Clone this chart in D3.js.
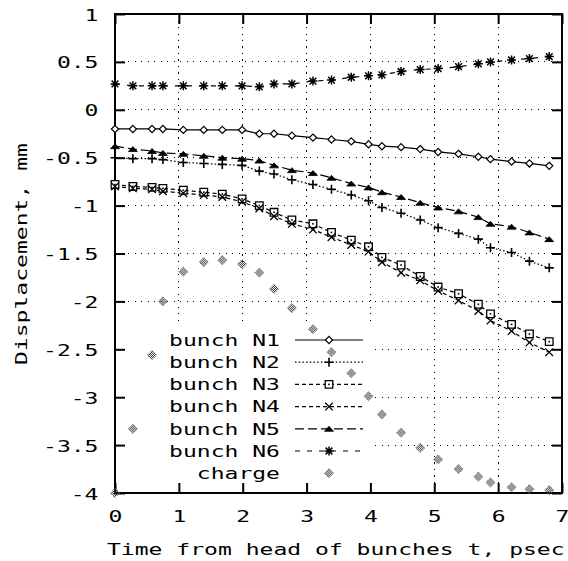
<!DOCTYPE html>
<html>
<head>
<meta charset="utf-8">
<script src="https://cdn.jsdelivr.net/npm/d3@7"></script>
<style>
  body { margin: 0; background: #fff; }
</style>
</head>
<body>
<div id="chart"></div>
<script>
// time from head of bunches, psec (shared by every series)
const tVals = [0, 0.28, 0.58, 0.75, 1.07, 1.39, 1.68, 1.99, 2.26, 2.49, 2.77, 3.10, 3.39,
               3.70, 3.97, 4.18, 4.48, 4.78, 5.06, 5.38, 5.69, 5.88, 6.21, 6.49, 6.80];

// displacement, mm
const bunchN1 = [-0.20, -0.20, -0.20, -0.20, -0.21, -0.21, -0.21, -0.21, -0.25, -0.25, -0.27, -0.29, -0.31,
                 -0.33, -0.36, -0.38, -0.39, -0.41, -0.44, -0.46, -0.49, -0.515, -0.54, -0.56, -0.585];
const bunchN2 = [-0.50, -0.51, -0.51, -0.52, -0.55, -0.56, -0.57, -0.58, -0.64, -0.67, -0.73, -0.78, -0.83,
                 -0.89, -0.95, -1.02, -1.08, -1.15, -1.23, -1.29, -1.35, -1.44, -1.49, -1.58, -1.65];
const bunchN3 = [-0.78, -0.80, -0.81, -0.82, -0.84, -0.86, -0.88, -0.93, -1.00, -1.07, -1.15, -1.19, -1.28,
                 -1.36, -1.43, -1.54, -1.62, -1.74, -1.85, -1.92, -2.03, -2.13, -2.24, -2.34, -2.42];
const bunchN4 = [-0.80, -0.82, -0.83, -0.85, -0.87, -0.89, -0.91, -0.96, -1.03, -1.11, -1.19, -1.25, -1.33,
                 -1.41, -1.48, -1.59, -1.70, -1.78, -1.89, -1.99, -2.10, -2.20, -2.31, -2.43, -2.53];
const bunchN5 = [-0.38, -0.41, -0.43, -0.45, -0.46, -0.48, -0.50, -0.51, -0.53, -0.58, -0.63, -0.66, -0.71,
                 -0.77, -0.81, -0.86, -0.91, -0.97, -1.02, -1.06, -1.12, -1.19, -1.22, -1.28, -1.35];
const bunchN6 = [0.27, 0.25, 0.25, 0.25, 0.25, 0.25, 0.25, 0.25, 0.24, 0.27, 0.27, 0.30, 0.31,
                 0.34, 0.355, 0.365, 0.40, 0.42, 0.43, 0.45, 0.48, 0.50, 0.52, 0.535, 0.556];
const charge  = [-4.00, -3.33, -2.56, -2.00, -1.69, -1.59, -1.57, -1.61, -1.70, -1.87, -2.07, -2.29, -2.53,
                 -2.75, -2.99, -3.18, -3.37, -3.53, -3.65, -3.75, -3.83, -3.89, -3.94, -3.96, -3.97];

const seriesNames = ["bunch N1", "bunch N2", "bunch N3", "bunch N4", "bunch N5", "bunch N6", "charge"];
const xTicks = [0, 1, 2, 3, 4, 5, 6, 7];
const yTicks = [1, 0.5, 0, -0.5, -1, -1.5, -2, -2.5, -3, -3.5, -4];
const xTitle = "Time from head of bunches t, psec";
const yTitle = "Displacement, mm";

const W = 568, H = 561;
const SX = 1.44;                       // widen the mono glyphs like the bitmap font
const FONT = '"DejaVu Sans Mono", monospace';

const x = d3.scaleLinear().domain([0, 7]).range([115, 562]);
const y = d3.scaleLinear().domain([-4, 1]).range([493, 14]);

// marker shapes
const sym = {
  diamond: r => `M0,${-r}L${r},0L0,${r}L${-r},0Z`,
  plus: r => `M${-r},0H${r}M0,${-r}V${r}`,
  square: r => `M${-r},${-r}H${r}V${r}H${-r}Z`,
  cross: r => `M${-r},${-r}L${r},${r}M${-r},${r}L${r},${-r}`,
  star: r => `M${-r},0H${r}M0,${-r}V${r}M${-r*0.75},${-r*0.75}L${r*0.75},${r*0.75}M${-r*0.75},${r*0.75}L${r*0.75},${-r*0.75}`
};

const styles = [
  { dash: null,      draw: g => g.append("path").attr("d", sym.diamond(3.6)).attr("fill", "#fff").attr("stroke", "#000").attr("stroke-width", 1.2) },
  { dash: "1.5,2.2", draw: g => g.append("path").attr("d", sym.plus(4.5)).attr("fill", "none").attr("stroke", "#000").attr("stroke-width", 1.6) },
  { dash: "4,3",     draw: g => { g.append("path").attr("d", sym.square(3.8)).attr("fill", "#fff").attr("stroke", "#000").attr("stroke-width", 1.3);
                                  g.append("rect").attr("x", -0.8).attr("y", -0.8).attr("width", 1.6).attr("height", 1.6).attr("fill", "#000"); } },
  { dash: "4,3",     draw: g => g.append("path").attr("d", sym.cross(3.8)).attr("fill", "none").attr("stroke", "#000").attr("stroke-width", 1.3) },
  { dash: "9,4",     draw: g => g.append("path").attr("d", "M-4.5,2.5H4.5L0,-2.5Z").attr("fill", "#000").attr("stroke", "#000").attr("stroke-width", 0.8) },
  { dash: "5,7",     draw: g => { g.append("path").attr("d", sym.star(4.5)).attr("fill", "none").attr("stroke", "#000").attr("stroke-width", 1.5);
                                  g.append("circle").attr("r", 2).attr("fill", "#000"); } },
  { dash: "none",    draw: g => { g.append("path").attr("d", sym.diamond(4.6)).attr("fill", "url(#chk)").attr("stroke", "#666").attr("stroke-width", 1).attr("stroke-dasharray", "1.2,1.2"); } }
];

const seriesVals = [bunchN1, bunchN2, bunchN3, bunchN4, bunchN5, bunchN6, charge];
const series = seriesNames.map((name, i) => ({ name, values: seriesVals[i], ...styles[i] }));

const svg = d3.select("#chart").append("svg")
  .attr("width", W).attr("height", H)
  .style("font-family", FONT).style("font-size", "16px");

const defs = svg.append("defs");
const pat = defs.append("pattern").attr("id", "chk").attr("patternUnits", "userSpaceOnUse")
  .attr("width", 2).attr("height", 2);
pat.append("rect").attr("width", 1).attr("height", 1).attr("fill", "#333");
pat.append("rect").attr("x", 1).attr("y", 1).attr("width", 1).attr("height", 1).attr("fill", "#333");

svg.append("rect").attr("width", W).attr("height", H).attr("fill", "#fff");

// dotted grid
const grid = svg.append("g")
  .attr("stroke", "#000").attr("stroke-width", 1)
  .attr("stroke-dasharray", "1.3,5.2").attr("shape-rendering", "crispEdges");
grid.selectAll("line.gx").data(xTicks.filter(d => d > 0 && d < 7)).join("line")
  .attr("class", "gx")
  .attr("x1", d => x(d)).attr("x2", d => x(d))
  .attr("y1", y(1)).attr("y2", y(-4));
grid.selectAll("line.gy").data(yTicks.filter(d => d > -4 && d < 1)).join("line")
  .attr("class", "gy")
  .attr("x1", x(0)).attr("x2", x(7))
  .attr("y1", d => y(d)).attr("y2", d => y(d));

// key area hides the grid
svg.append("rect")
  .attr("x", x(0)).attr("y", 326)
  .attr("width", 374 - x(0)).attr("height", y(-4) - 326)
  .attr("fill", "#fff");

// axes, inward ticks on all four sides
function styleAxis(g){
  g.attr("font-family", FONT).attr("font-size", 16);
  g.select(".domain").remove();
  g.selectAll(".tick line").attr("stroke", "#000").attr("stroke-width", 2);
  g.selectAll(".tick text").attr("fill", "#000");
}
const fmt = d => String(d);

const gx = svg.append("g").attr("transform", `translate(0,${y(-4)})`)
  .call(d3.axisBottom(x).tickValues(xTicks).tickSize(-10).tickPadding(18).tickFormat(fmt))
  .call(styleAxis);
gx.selectAll(".tick text").attr("transform", `scale(${SX},1)`);

const gy = svg.append("g").attr("transform", `translate(${x(0)},0)`)
  .call(d3.axisLeft(y).tickValues(yTicks).tickSize(-10).tickPadding(16.5 / SX).tickFormat(fmt))
  .call(styleAxis);
gy.selectAll(".tick text").attr("dy", "0.38em").attr("transform", `scale(${SX},1)`);

svg.append("g").attr("transform", `translate(0,${y(1)})`)
  .call(d3.axisTop(x).tickValues(xTicks).tickSize(-10).tickFormat(""))
  .call(styleAxis);
svg.append("g").attr("transform", `translate(${x(7)},0)`)
  .call(d3.axisRight(y).tickValues(yTicks).tickSize(-10).tickFormat(""))
  .call(styleAxis);

svg.append("rect")
  .attr("x", x(0)).attr("y", y(1))
  .attr("width", x(7) - x(0)).attr("height", y(-4) - y(1))
  .attr("fill", "none").attr("stroke", "#000").attr("stroke-width", 2);

// data
const line = d3.line().x((d, i) => x(tVals[i])).y(d => y(d));
const plot = svg.append("g");
series.forEach(s => {
  if (s.dash !== "none") {
    plot.append("path").datum(s.values)
      .attr("d", line)
      .attr("fill", "none").attr("stroke", "#000").attr("stroke-width", 1.2)
      .attr("stroke-dasharray", s.dash);
  }
});
series.forEach(s => {
  s.values.forEach((v, i) => {
    const g = plot.append("g").attr("transform", `translate(${x(tVals[i])},${y(v)})`);
    s.draw(g);
  });
});

// key
const keyTop = 340, rowH = 22.2;
series.forEach((s, i) => {
  const ry = keyTop + i * rowH;
  svg.append("text")
    .attr("transform", `translate(280,${ry}) scale(${SX},1)`)
    .attr("text-anchor", "end").attr("dy", "0.36em")
    .attr("fill", "#000")
    .text(s.name);
  if (s.dash !== "none") {
    svg.append("line")
      .attr("x1", 295).attr("x2", 363).attr("y1", ry).attr("y2", ry)
      .attr("stroke", "#000").attr("stroke-width", 1.2)
      .attr("stroke-dasharray", s.dash);
  }
  s.draw(svg.append("g").attr("transform", `translate(329,${ry})`));
});

// titles
svg.append("text")
  .attr("transform", `translate(107,555) scale(${SX},1)`)
  .attr("fill", "#000")
  .text(xTitle);
svg.append("text")
  .attr("transform", `translate(27,365) rotate(-90) scale(${SX},1)`)
  .attr("fill", "#000")
  .text(yTitle);
</script>
</body>
</html>
